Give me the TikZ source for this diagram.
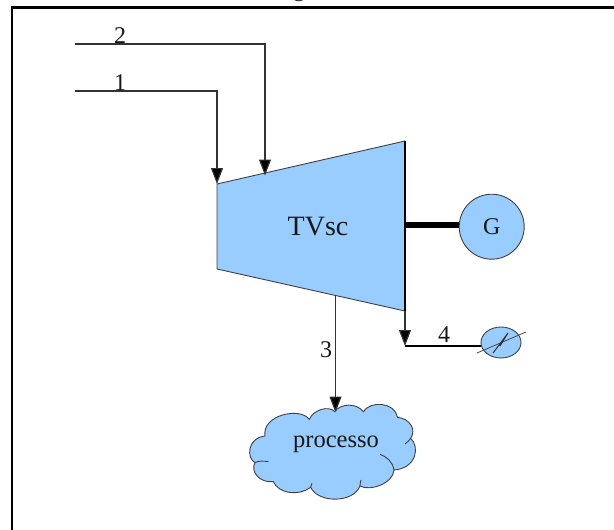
\documentclass[tikz,border=0pt]{standalone}
\usepackage{fontspec}
\setmainfont{Liberation Serif}
\usetikzlibrary{arrows.meta,shapes.geometric}
\definecolor{fillblue}{HTML}{99CCFF}
\tikzset{
  x=1pt,y=-1pt,
  frameline/.style={line width=2.4pt,black},
  flow/.style={line width=1.2pt,draw=black!80},
  flowarrow/.style={flow,-{Triangle[length=16pt,width=12pt,fill=black]}},
  unit/.style={fill=fillblue,draw=black!75,line width=0.9pt},
  lbl/.style={font=\fontsize{24}{26}\selectfont,inner sep=0pt,text=black!90},
}
\begin{document}
\begin{tikzpicture}
\useasboundingbox (0,0) rectangle (614,530);
% frame
\coordinate (fa) at (12,530);
\coordinate (fb) at (12,7.5);
\coordinate (fc) at (614,7.5);
\draw[frameline,line join=miter] (fa) -- (fb) -- (fc);
\node[lbl,anchor=base] (cut) at (299,-3) {g};
% turbine
\coordinate (t1) at (217,184);
\coordinate (t2) at (405,141);
\coordinate (t3) at (405,311);
\coordinate (t4) at (217,269);
\fill[fillblue] (t1) -- (t2) -- (t3) -- (t4) -- cycle;
\draw[unit,fill=none] (t2) -- (t1) -- (t4) -- (t3);
\draw[line width=1.1pt,black] (t2) -- (t3);
\node[lbl,font=\fontsize{28}{30}\selectfont] (tv) at (318,227) {TVsc};
% generator
\node[circle,unit,minimum size=65pt,inner sep=0pt] (gen) at (491.7,226.7) {};
\node[lbl] (gl) at (491.7,226.5) {G};
\draw[line width=6.5pt,black] (405,225) -- (gen.west |- 0,225);
% inlets
\coordinate (s2) at (75,44);
\coordinate (c2) at (265,44);
\coordinate (e2) at (265,175.5);
\coordinate (s1) at (75,91);
\coordinate (c1) at (217,91);
\draw[flowarrow] (s2) -- (c2) -- (e2);
\draw[flowarrow] (s1) -- (c1) -- (t1);
\node[lbl,anchor=base] (n2) at (120,43) {2};
\node[lbl,anchor=base] (n1) at (120,90) {1};
% process extraction
\coordinate (s3) at (335.5,295);
\coordinate (e3) at (335.5,412.5);
\draw[flowarrow] (s3) -- (e3);
\node[lbl,anchor=base] (n3) at (326,357) {3};
% cloud
\begin{scope}[shift={(220,360)},x=0.3333pt,y=-0.3333pt]
\path[fill=fillblue,draw=black!75,line width=0.9pt]
  (268,178) .. controls (280,150) and (325,135) .. (345,155)
  .. controls (360,130) and (410,128) .. (430,155)
  .. controls (450,122) and (525,125) .. (532,172)
  .. controls (570,175) and (590,210) .. (572,235)
  .. controls (600,260) and (590,325) .. (522,330)
  .. controls (520,370) and (450,395) .. (420,378)
  .. controls (400,430) and (295,430) .. (272,382)
  .. controls (235,410) and (175,400) .. (160,365)
  .. controls (120,370) and (90,335) .. (105,308)
  .. controls (80,295) and (80,235) .. (135,228)
  .. controls (125,165) and (240,140) .. (268,178) -- cycle;
\draw[draw=black!75,line width=0.9pt] (480,283) .. controls (500,290) and (518,305) .. (522,330);
\draw[draw=black!75,line width=0.9pt] (105,308) .. controls (115,302) and (130,303) .. (145,305);
\draw[draw=black!75,line width=0.9pt] (572,235) .. controls (568,242) and (560,248) .. (555,252);
\draw[draw=black!75,line width=0.9pt] (420,378) .. controls (420,370) and (422,365) .. (423,360);
\draw[draw=black!75,line width=0.9pt] (272,382) .. controls (272,378) and (274,374) .. (276,370);
\end{scope}
\node[lbl,font=\fontsize{24.5}{26}\selectfont] (proc) at (336,444) {processo};
% condenser
\node[ellipse,unit,minimum width=40pt,minimum height=31pt,inner sep=0pt] (cond) at (501,342.5) {};
\coordinate (d1) at (477,353);
\coordinate (d2) at (526,332);
\draw[line width=0.8pt,black!70] (d1) -- (d2);
\coordinate (z1) at (493,353);
\coordinate (z2) at (508,333);
\coordinate (z3) at (500,346);
\draw[line width=1pt,black!80,line join=miter] (z1) -- (z2) -- (z3);
% condenser stream
\coordinate (k4) at (405,346);
\draw[flowarrow] (t3) -- (k4);
\draw[flow,black] (k4) -- (cond.west |- 0,346);
\node[lbl,anchor=base] (n4) at (444,342) {4};
\end{tikzpicture}
\end{document}
